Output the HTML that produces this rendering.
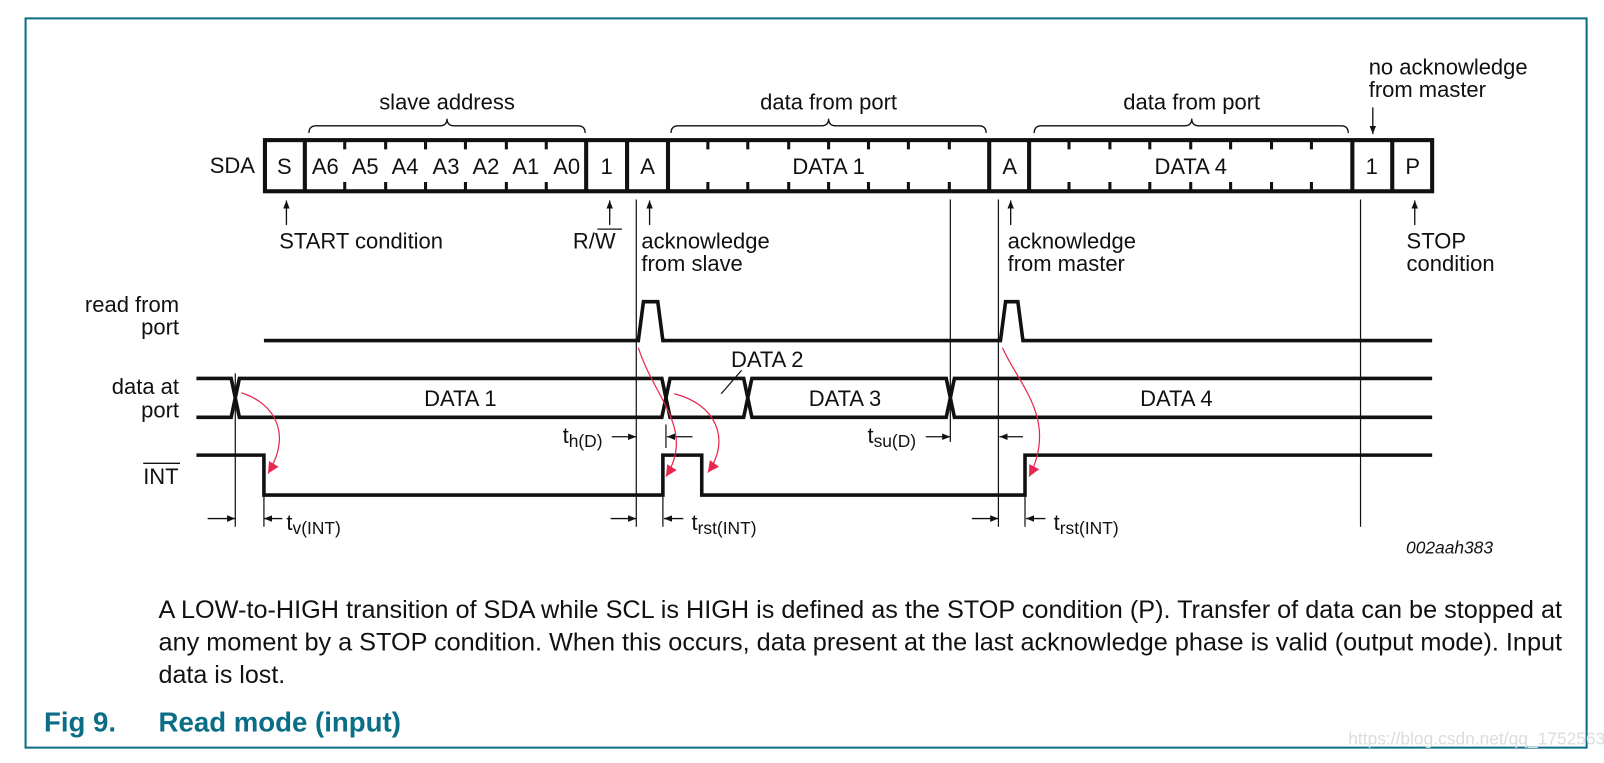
<!DOCTYPE html>
<html><head><meta charset="utf-8"><style>
html,body{margin:0;padding:0;background:#fff;width:1604px;height:763px;overflow:hidden}
svg{display:block}
text{font-family:"Liberation Sans",Arial,sans-serif;fill:#111}
</style></head><body>
<svg width="1604" height="763" viewBox="0 0 1568 746" preserveAspectRatio="none" xmlns="http://www.w3.org/2000/svg">
<defs>
<marker id="ah" viewBox="0 0 10 10" refX="10" refY="5" markerWidth="8" markerHeight="8" orient="auto" markerUnits="userSpaceOnUse"><path d="M0,1 L10,5 L0,9 z" fill="#111"/></marker>
<marker id="ap" viewBox="0 0 10 10" refX="10" refY="5" markerWidth="11" markerHeight="11" orient="auto" markerUnits="userSpaceOnUse"><path d="M0,0 L10,5 L0,10 z" fill="#e8264f"/></marker>
</defs>
<path d="M25,731 L25,18 L1551,18 L1551,731 Z" fill="none" stroke="#0a6e87" stroke-width="2"/>

<g font-size="21.5">
<text x="437" y="107" text-anchor="middle">slave address</text>
<text x="810" y="107" text-anchor="middle">data from port</text>
<text x="1165" y="107" text-anchor="middle">data from port</text>
<text x="1338" y="73">no acknowledge</text>
<text x="1338" y="95">from master</text>
</g>
<g fill="none" stroke="#111" stroke-width="1.3">
<path d="M302,130 Q302,123 309,123 L430,123 Q437,123 437,116 Q437,123 444,123 L565,123 Q572,123 572,130"/>
<path d="M656,130 Q656,123 663,123 L803,123 Q810,123 810,116 Q810,123 817,123 L957,123 Q964,123 964,130"/>
<path d="M1011,130 Q1011,123 1018,123 L1158,123 Q1165,123 1165,116 Q1165,123 1172,123 L1311,123 Q1318,123 1318,130"/>
</g>
<line x1="1342" y1="105" x2="1342" y2="131" stroke="#111" stroke-width="1.3" marker-end="url(#ah)"/>

<text x="205" y="169" font-size="21.5">SDA</text>
<rect x="259" y="137" width="1141" height="50" fill="none" stroke="#111" stroke-width="4"/>
<g stroke="#111" stroke-width="4">
<line x1="298" y1="137" x2="298" y2="187"/>
<line x1="573" y1="137" x2="573" y2="187"/>
<line x1="613" y1="137" x2="613" y2="187"/>
<line x1="653" y1="137" x2="653" y2="187"/>
<line x1="967" y1="137" x2="967" y2="187"/>
<line x1="1006" y1="137" x2="1006" y2="187"/>
<line x1="1322" y1="137" x2="1322" y2="187"/>
<line x1="1361" y1="137" x2="1361" y2="187"/>
</g>
<g stroke="#111" stroke-width="3">
<path d="M337,137v9M337,187v-9M377,137v9M377,187v-9M416,137v9M416,187v-9M455,137v9M455,187v-9M495,137v9M495,187v-9M534,137v9M534,187v-9"/>
<path d="M692,137v9M692,187v-9M731,137v9M731,187v-9M771,137v9M771,187v-9M810,137v9M810,187v-9M849,137v9M849,187v-9M888,137v9M888,187v-9M928,137v9M928,187v-9"/>
<path d="M1045,137v9M1045,187v-9M1085,137v9M1085,187v-9M1124,137v9M1124,187v-9M1164,137v9M1164,187v-9M1203,137v9M1203,187v-9M1243,137v9M1243,187v-9M1282,137v9M1282,187v-9"/>
</g>
<g font-size="21.5" text-anchor="middle">
<text x="278" y="170">S</text>
<text x="318" y="170">A6</text><text x="357" y="170">A5</text><text x="396" y="170">A4</text><text x="436" y="170">A3</text><text x="475" y="170">A2</text><text x="514" y="170">A1</text><text x="554" y="170">A0</text>
<text x="593" y="170">1</text><text x="633" y="170">A</text>
<text x="810" y="170">DATA 1</text>
<text x="987" y="170">A</text>
<text x="1164" y="170">DATA 4</text>
<text x="1341" y="170">1</text><text x="1381" y="170">P</text>
</g>

<g stroke="#111" stroke-width="1.3">
<line x1="280" y1="220" x2="280" y2="196" marker-end="url(#ah)"/>
<line x1="596" y1="220" x2="596" y2="196" marker-end="url(#ah)"/>
<line x1="635" y1="220" x2="635" y2="196" marker-end="url(#ah)"/>
<line x1="988" y1="220" x2="988" y2="196" marker-end="url(#ah)"/>
<line x1="1383" y1="220" x2="1383" y2="196" marker-end="url(#ah)"/>
</g>
<g font-size="21.5">
<text x="273" y="243">START condition</text>
<text x="560" y="243">R/W</text>
<line x1="584" y1="224" x2="608" y2="224" stroke="#111" stroke-width="1.3"/>
<text x="627" y="243">acknowledge</text><text x="627" y="265">from slave</text>
<text x="985" y="243">acknowledge</text><text x="985" y="265">from master</text>
<text x="1375" y="243">STOP</text><text x="1375" y="265">condition</text>
<text x="175" y="305" text-anchor="end">read from</text>
<text x="175" y="327" text-anchor="end">port</text>
<text x="175" y="385" text-anchor="end">data at</text>
<text x="175" y="408" text-anchor="end">port</text>
<text x="140" y="473">INT</text>
<line x1="140" y1="453" x2="176" y2="453" stroke="#111" stroke-width="1.3"/>
</g>

<g stroke="#111" stroke-width="1.2">
<line x1="622" y1="195" x2="622" y2="515"/>
<line x1="929" y1="195" x2="929" y2="432"/>
<line x1="976" y1="195" x2="976" y2="515"/>
<line x1="1330" y1="195" x2="1330" y2="515"/>
<line x1="230" y1="365" x2="230" y2="515"/>
<line x1="258" y1="484" x2="258" y2="515"/>
<line x1="651" y1="415" x2="651" y2="438"/>
<line x1="648" y1="484" x2="648" y2="515"/>
<line x1="1002" y1="484" x2="1002" y2="515"/>
</g>

<path d="M258,333 L624,333 L629,295 L643,295 L648,333 L978,333 L983,295 L995,295 L1000,333 L1400,333" fill="none" stroke="#111" stroke-width="3.5"/>

<g fill="none" stroke="#111" stroke-width="3.5">
<path d="M192,370 L226,370 L234,408 L647,408 L655,370 L727,370 L735,408 L925,408 L933,370 L1400,370"/>
<path d="M192,408 L226,408 L234,370 L647,370 L655,408 L727,408 L735,370 L925,370 L933,408 L1400,408"/>
</g>
<g font-size="21.5" text-anchor="middle">
<text x="450" y="397">DATA 1</text>
<text x="826" y="397">DATA 3</text>
<text x="1150" y="397">DATA 4</text>
<text x="750" y="359">DATA 2</text>
</g>
<line x1="725" y1="362" x2="705" y2="385" stroke="#111" stroke-width="1.2"/>

<path d="M192,445 L258,445 L258,484 L648,484 L648,445 L686,445 L686,484 L1002,484 L1002,445 L1400,445" fill="none" stroke="#111" stroke-width="3.5"/>

<g stroke="#111" stroke-width="1.3">
<line x1="203" y1="507" x2="230" y2="507" marker-end="url(#ah)"/>
<line x1="276" y1="507" x2="258" y2="507" marker-end="url(#ah)"/>
<line x1="597" y1="507" x2="622" y2="507" marker-end="url(#ah)"/>
<line x1="668" y1="507" x2="649" y2="507" marker-end="url(#ah)"/>
<line x1="950" y1="507" x2="976" y2="507" marker-end="url(#ah)"/>
<line x1="1022" y1="507" x2="1003" y2="507" marker-end="url(#ah)"/>
<line x1="598" y1="427" x2="622" y2="427" marker-end="url(#ah)"/>
<line x1="677" y1="427" x2="652" y2="427" marker-end="url(#ah)"/>
<line x1="905" y1="427" x2="929" y2="427" marker-end="url(#ah)"/>
<line x1="1000" y1="427" x2="977" y2="427" marker-end="url(#ah)"/>
</g>
<g font-size="21.5">
<text x="280" y="518">t<tspan font-size="17" dy="4">v(INT)</tspan></text>
<text x="676" y="518">t<tspan font-size="17" dy="4">rst(INT)</tspan></text>
<text x="1030" y="518">t<tspan font-size="17" dy="4">rst(INT)</tspan></text>
<text x="550" y="433">t<tspan font-size="17" dy="4">h(D)</tspan></text>
<text x="848" y="433">t<tspan font-size="17" dy="4">su(D)</tspan></text>
<text x="1417" y="541" font-size="17" font-style="italic" text-anchor="middle">002aah383</text>
</g>

<g fill="none" stroke="#e8264f" stroke-width="1.2">
<path d="M236,384 C270,395 285,425 262,463" marker-end="url(#ap)"/>
<path d="M624,340 C640,390 680,420 651,466" marker-end="url(#ap)"/>
<path d="M659,385 C700,395 715,430 692,462" marker-end="url(#ap)"/>
<path d="M980,340 C995,375 1035,410 1006,466" marker-end="url(#ap)"/>
</g>

<g font-size="24.5">
<text x="155" y="604" textLength="1372" lengthAdjust="spacingAndGlyphs">A LOW-to-HIGH transition of SDA while SCL is HIGH is defined as the STOP condition (P). Transfer of data can be stopped at</text>
<text x="155" y="636" textLength="1372" lengthAdjust="spacingAndGlyphs">any moment by a STOP condition. When this occurs, data present at the last acknowledge phase is valid (output mode). Input</text>
<text x="155" y="668">data is lost.</text>
</g>
<text x="43" y="715" font-size="27" font-weight="bold" style="fill:#0a6e87">Fig 9.</text>
<text x="155" y="715" font-size="27" font-weight="bold" style="fill:#0a6e87">Read mode (input)</text>
<text x="1318" y="728" font-size="17" style="fill:#dcdcdc">https://blog.csdn.net/qq_17525633</text>
</svg>
</body></html>
